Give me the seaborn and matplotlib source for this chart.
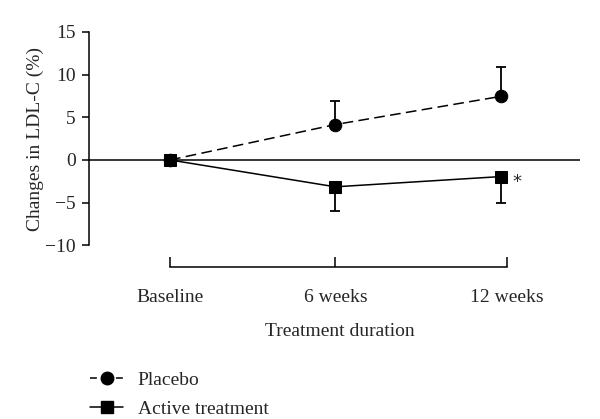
import matplotlib
matplotlib.use("Agg")
import matplotlib.pyplot as plt
from matplotlib.lines import Line2D
import seaborn as sns
import pandas as pd

# Data
timepoints = ["Baseline", "6 weeks", "12 weeks"]
placebo_mean = [0.0, 4.15, 7.45]
placebo_err = [0.0, 2.75, 3.45]
active_mean = [0.0, -3.15, -1.95]
active_err = [0.0, 2.8, 3.1]
ytick_vals = [-10, -5, 0, 5, 10, 15]
ytick_labels = ["\u221210", "\u22125", "0", "5", "10", "15"]

sns.set_theme(style="white")
plt.rcParams["font.family"] = ["Liberation Serif", "DejaVu Serif"]

FS = 14
fig = plt.figure(figsize=(6.0, 4.19), dpi=100)
ax = fig.add_axes([89/600, 1-267/419, (580-89)/600, (267-32)/419])

xpos = list(range(len(timepoints)))
df_p = pd.DataFrame({"x": xpos, "y": placebo_mean})
df_a = pd.DataFrame({"x": xpos, "y": active_mean})

ax.axhline(0, color="black", lw=1.1, zorder=1)

sns.lineplot(data=df_p, x="x", y="y", ax=ax, color="black", lw=1.1,
             marker="o", markersize=9, markeredgecolor="black",
             linestyle=(0, (7, 3.5)), zorder=3, legend=False)
sns.lineplot(data=df_a, x="x", y="y", ax=ax, color="black", lw=1.1,
             marker="s", markersize=8.5, markeredgecolor="black",
             zorder=4, legend=False)

ax.errorbar(xpos, placebo_mean, yerr=[[0]*3, placebo_err], fmt="none",
            ecolor="black", elinewidth=1.3, capsize=3.5, capthick=1.3, zorder=2)
ax.errorbar(xpos, active_mean, yerr=[active_err, [0]*3], fmt="none",
            ecolor="black", elinewidth=1.3, capsize=3.5, capthick=1.3, zorder=2)

ax.text(2.1, -2.6, "*", fontsize=13, ha="center", va="center", family="DejaVu Sans")

ax.set_xlim(-0.49, 2.48)
ax.set_ylim(-12.55, 15.0)
ax.set_yticks(ytick_vals)
ax.set_yticklabels(ytick_labels, fontsize=FS)
ax.set_xticks([0, 1, 2.04])
ax.set_xticklabels(timepoints, fontsize=FS)

for s in ["top", "right"]:
    ax.spines[s].set_visible(False)
ax.spines["left"].set_bounds(-10, 15)
ax.spines["bottom"].set_bounds(0, 2.04)
for s in ["left", "bottom"]:
    ax.spines[s].set_color("black")
    ax.spines[s].set_linewidth(1.1)

ax.tick_params(axis="y", direction="out", length=5, width=1.1, color="black", pad=4.5, left=True)
ax.tick_params(axis="x", direction="in", length=7, width=1.1, color="black", pad=15.5, bottom=True)

ax.set_xlabel("Treatment duration", fontsize=FS)
ax.set_ylabel("Changes in LDL-C (%)", fontsize=FS)
ax.xaxis.set_label_coords((340-89)/491, -(329-267)/235 + 0.027)
ax.yaxis.set_label_coords((44-89)/491, (267-139)/235)

h_p = Line2D([], [], color="black", lw=1.1, linestyle=(0, (4.5, 12.5)),
             marker="o", markersize=9)
h_a = Line2D([], [], color="black", lw=1.1, marker="s", markersize=8.5)
ax.legend([h_p, h_a], ["Placebo", "Active treatment"], loc="upper left",
          bbox_to_anchor=(90/600, 1-371/419), bbox_transform=fig.transFigure,
          frameon=False, fontsize=FS, handlelength=1.7, handletextpad=0.75,
          labelspacing=0.58, borderaxespad=0, borderpad=0)

fig.savefig("out.png", dpi=100)
